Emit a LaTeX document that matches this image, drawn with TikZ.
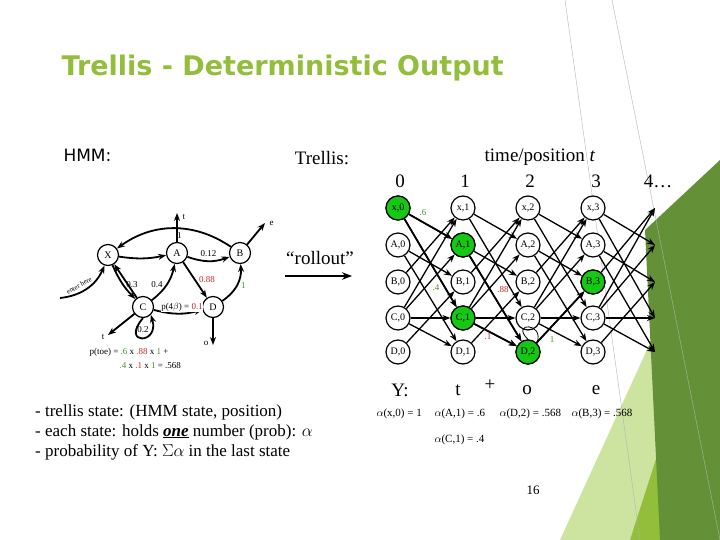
\documentclass[tikz,border=0pt]{standalone}
\usepackage{fontspec}
\setmainfont{Liberation Serif}
\newfontfamily\titlefont{DejaVu Sans}
\usetikzlibrary{arrows.meta}
\definecolor{tgreen}{RGB}{146,190,60}
\definecolor{dgreen}{RGB}{100,145,55}
\definecolor{lgreen}{RGB}{205,228,160}
\definecolor{nodegreen}{RGB}{20,200,20}
\definecolor{pred}{RGB}{190,40,40}
\definecolor{pgreen}{RGB}{80,140,40}
\newcommand{\fs}[1]{\fontsize{#1}{#1}\selectfont}
\begin{document}
\begin{tikzpicture}[x=1pt,y=-1pt,
  st/.style={circle,draw,line width=1.2pt,minimum size=24pt,inner sep=0pt,font=\fs{10},fill=white},
  on/.style={st,fill=nodegreen},
  hs/.style={circle,draw,line width=1.2pt,minimum size=21pt,inner sep=0pt,font=\fs{10},fill=white},
  ed/.style={-{Stealth[length=8pt]},line width=1.3pt},
  he/.style={-{Stealth[length=8pt]},line width=1.8pt},
  lb/.style={font=\fs{9}}]
\useasboundingbox (0,0) rectangle (720,540);
% decorations
\fill[lgreen] (560,540) -- (720,190) -- (720,540) -- cycle;
\fill[tgreen] (630,540) -- (720,260) -- (720,540) -- cycle;
\fill[dgreen] (645,230) -- (720,160) -- (720,540) -- (660,540) -- cycle;
\draw[gray!60] (612,0) -- (720,540);
\draw[gray!60] (565,0) -- (640,540);
\node[font=\titlefont\bfseries\fs{27},text=tgreen,anchor=west] (title) at (58,68) {Trellis - Deterministic Output};
\node[font=\titlefont\fs{17},anchor=west] (hmm) at (60,155) {HMM:};
\node[font=\fs{19}] (trl) at (322,158) {Trellis:};
\node[font=\fs{19}] (tp) at (540,157) {time/position \textit{t}};
\node[font=\fs{19}] (c0) at (400,181) {0};
\node[font=\fs{19}] (c1) at (465,181) {1};
\node[font=\fs{19}] (c2) at (530,181) {2};
\node[font=\fs{19}] (c3) at (596,181) {3};
\node[font=\fs{19}] (c4) at (658,181) {4\dots};
% HMM
\node[hs] (X) at (108,255) {X};
\node[hs] (A) at (177,253) {A};
\node[hs] (B) at (240,253) {B};
\node[hs] (C) at (143,307) {C};
\node[hs] (D) at (213,307) {D};
\coordinate (tA) at (177,213); \coordinate (eB) at (265,223);
\coordinate (tC) at (108,335); \coordinate (oD) at (213,345);
\coordinate (en) at (60,298);
\draw[he] (A) -- (tA); \node[lb,anchor=west] (lt1) at (179,217) {t};
\draw[he] (B) -- (eB); \node[lb,anchor=west] (le) at (266,223) {e};
\draw[he] (C) -- (tC); \node[lb] (lt2) at (103,337) {t};
\draw[he] (D) -- (oD); \node[lb] (lo) at (206,343) {o};
\draw[he] (en) to[bend right=30] node[font=\fs{7},sloped,above,pos=0.4] {enter here} (X);
\draw[he] (B) to[bend right=35] node[lb,pos=0.45,below] {1} (X);
\draw[he] (X) to[bend right=10] (A);
\draw[he] (A) to[bend right=20] node[lb,above] {0.12} (B);
\draw[he] (A) -- node[lb,right,text=pred] {0.88} (D);
\draw[he] (D) to[bend right=30] node[lb,right,text=pgreen] {1} (B);
\draw[he] (C) to[bend right=20] node[lb,left] {0.4} (A);
\draw[he] (X) to[bend right=10] (C);
\draw[he] (C) -- (X);
\node[lb] (l03) at (132,285) {0.3};
\draw[he] (C) to[bend right=15] (D);
\node[lb,fill=white,inner sep=0.5pt] (pb) at (182,307) {p(4$\beta$) = {\color{pred}0.1}};
\draw[he] (C.south) .. controls (120,345) and (160,345) .. (C.south east);
\node[lb] (l02) at (143,330) {0.2};
\node[lb,anchor=west] (pt1) at (86,352) {p(toe) = {\color{pgreen}.6} x {\color{pred}.88} x {\color{pgreen}1} +};
\node[lb,anchor=west] (pt2) at (116,366) {{\color{pgreen}.4} x {\color{pred}.1} x {\color{pgreen}1} = .568};
\coordinate (r1) at (285,276); \coordinate (r2) at (352,276);
\draw[-{Stealth[length=10pt]},line width=2.5pt] (r1) -- (r2);
\node[font=\fs{19}] (ro) at (320,258) {``rollout''};
% trellis
\foreach \n/\yy in {x/208,A/245,B/282,C/318,D/352}{
  \foreach \c/\xx in {0/398,1/463,2/528,3/593}{
    \node[st] (\n\c) at (\xx,\yy) {\n,\c};
  }}
\foreach \n/\c in {x/0,A/1,C/1,D/2,B/3}{\node[on] at (\n\c) {\n,\c};}
\foreach \a/\b in {0/1,1/2,2/3}{
  \foreach \s/\t in {x/A,x/C,A/B,A/D,B/x,C/x,C/A,C/C,C/D,D/B}{
    \draw[ed] (\s\a) -- (\t\b);
  }}
\draw[he] (x0) -- (A1); \draw[he] (x0) -- (C1); \draw[he] (A1) -- (D2);
\draw[he] (C1) -- (D2); \draw[he] (D2) -- (B3);
\foreach \s/\yy in {x/208,A/245,B/282,C/318,D/352}{
  \coordinate (o\s) at (655,\yy);}
\foreach \s/\t in {x/A,x/C,A/B,A/D,B/x,C/x,C/A,C/C,C/D,D/B}{
  \draw[ed] (\s3) -- (o\t);}
\node[lb,text=pgreen] (g6) at (423,213) {.6};
\node[lb,text=pgreen] (g4) at (436,288) {.4};
\node[lb,text=pred] (r88) at (503,290) {.88};
\node[lb,text=pred] (r1l) at (488,337) {.1};
\node[lb,text=pgreen] (g1) at (552,340) {1};
\draw[thick] (D2.north) .. controls (510,322) and (545,322) .. (D2.north east);
\node[font=\fs{19}] (Y) at (400,390) {Y:};
\node[font=\fs{19}] (yt) at (458,390) {t};
\node[font=\fs{19}] (yp) at (490,385) {+};
\node[font=\fs{19}] (yo) at (527,390) {o};
\node[font=\fs{19}] (ye) at (596,390) {e};
\node[font=\fs{11},anchor=west] (a1) at (373,414) {$\alpha$(x,0) = 1};
\node[font=\fs{11},anchor=west] (a2) at (431,414) {$\alpha$(A,1) = .6};
\node[font=\fs{11},anchor=west] (a3) at (496,414) {$\alpha$(D,2) = .568};
\node[font=\fs{11},anchor=west] (a4) at (568,414) {$\alpha$(B,3) = .568};
\node[font=\fs{11},anchor=west] (a5) at (431,440) {$\alpha$(C,1) = .4};
\node[font=\fs{13}] (pg) at (533,490) {16};
\node[font=\fs{17},anchor=west,align=left,inner sep=0pt] (bul) at (35,432) {- trellis state: (HMM state, position)\\[3pt]- each state: holds \underline{\textbf{\textit{one}}} number (prob): $\alpha$\\[3pt]- probability of Y: $\Sigma\alpha$ in the last state};
\end{tikzpicture}
\end{document}
